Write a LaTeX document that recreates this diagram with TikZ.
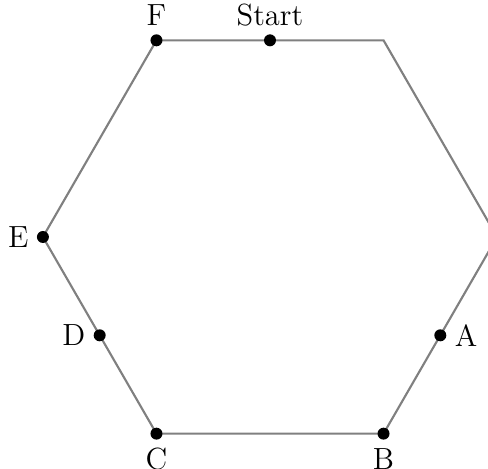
\documentclass[tikz,border=0pt,11pt]{standalone}
\usetikzlibrary{calc}
\tikzset{
  dot/.style={circle, fill=black, inner sep=0pt, minimum size=4.5pt},
  hexline/.style={draw=gray, thick},
  every label/.style={inner sep=2.8pt, font=\fontsize{11.5}{14}\selectfont},
  side/.style={label distance=-1.4pt},
  low/.style={label distance=-2.2pt},
}
\begin{document}
\begin{tikzpicture}
  \useasboundingbox (-3.567,-3.065) rectangle (2.880,3.131);
  % hexagon corners
  \foreach \k in {0,...,5}\coordinate (v\k) at (60*\k:3);
  \draw[hexline] (v0)--(v1)--(v2)--(v3)--(v4)--(v5)--cycle;
  % marked points
  \node[dot, label=above:F] (F) at (v2) {};
  \node[dot, label=above:Start] (start) at ($(v1)!0.5!(v2)$) {};
  \node[dot, side, label=left:E] (E) at (v3) {};
  \node[dot, side, label=left:D] (D) at ($(v3)!0.5!(v4)$) {};
  \node[dot, low, label=below:C] (C) at (v4) {};
  \node[dot, low, label=below:B] (B) at (v5) {};
  \node[dot, side, label=right:A] (A) at ($(v5)!0.5!(v0)$) {};
\end{tikzpicture}
\end{document}
